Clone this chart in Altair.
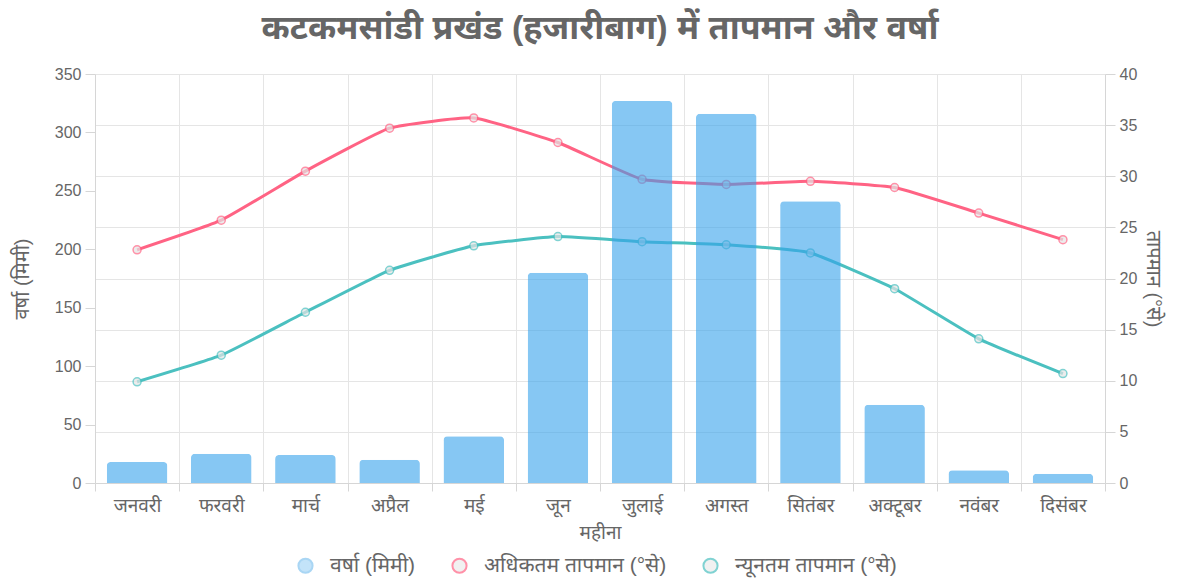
import altair as alt
import pandas as pd

months = ["जनवरी", "फरवरी", "मार्च", "अप्रैल", "मई", "जून",
          "जुलाई", "अगस्त", "सितंबर", "अक्टूबर", "नवंबर", "दिसंबर"]
rain = [18, 25, 24, 20, 40, 180, 327, 316, 241, 67, 11, 8]
tmax = [22.8, 25.7, 30.5, 34.7, 35.7, 33.3, 29.7, 29.2, 29.5, 28.9, 26.4, 23.8]
tmin = [9.9, 12.5, 16.7, 20.8, 23.2, 24.1, 23.6, 23.3, 22.5, 19.0, 14.1, 10.7]

s_rain = "वर्षा (मिमी)"
s_max = "अधिकतम तापमान (°से)"
s_min = "न्यूनतम तापमान (°से)"
series = [s_rain, s_max, s_min]
fill_colors = ["rgba(54,162,235,0.6)", "#e4e4e4", "#e4e4e4"]
stroke_colors = ["#86c5f0", "#ff6384", "#4bc0c0"]

df_rain = pd.DataFrame({"month": months, "value": rain, "series": s_rain})
df_temp = pd.concat([
    pd.DataFrame({"month": months, "value": tmax, "series": s_max}),
    pd.DataFrame({"month": months, "value": tmin, "series": s_min}),
])

FONT = "Liberation Sans, Arial, Noto Sans, sans-serif"
GREY = "#666666"
GRID = "#e5e5e5"
AX = "#d6d6d6"

x_axis = alt.Axis(title="महीना", labelAngle=0, tickBand="extent", grid=True,
                  gridColor=GRID, domainColor=AX, tickColor=AX,
                  tickSize=8, labelColor=GREY, labelFontSize=19, labelPadding=5,
                  titleColor=GREY, titleFontSize=19, titleFontWeight="normal",
                  titlePadding=8)
x_enc = alt.X("month:N", sort=months,
              scale=alt.Scale(paddingInner=0, paddingOuter=0), axis=x_axis)


def make_legend():
    return alt.Legend(
        title=None, orient="none", legendX=200, legendY=481, direction="horizontal",
        symbolType="circle", symbolSize=200, symbolStrokeWidth=2,
        labelFontSize=21, labelColor=GREY, labelFont=FONT, labelLimit=400,
        columnPadding=32, labelOffset=14,
    )


fill_enc = alt.Fill("series:N", scale=alt.Scale(domain=series, range=fill_colors),
                    legend=make_legend())
stroke_enc = alt.Stroke("series:N", scale=alt.Scale(domain=series, range=stroke_colors),
                        legend=make_legend())

y_right = alt.Y("value:Q", scale=alt.Scale(domain=[0, 40], nice=False),
                axis=alt.Axis(title="तापमान (°से)", orient="right",
                              values=list(range(0, 41, 5)), grid=True, gridColor=GRID,
                              tickSize=10, tickColor=AX, domainColor=AX,
                              labelColor=GREY, labelFontSize=16, labelPadding=4,
                              titleColor=GREY, titleFontSize=20,
                              titleFontWeight="normal", titlePadding=6))

lines = alt.Chart(df_temp).mark_line(strokeWidth=3, interpolate="cardinal",
                                     tension=0.6).encode(
    x=x_enc, y=y_right, stroke=stroke_enc)
points = alt.Chart(df_temp).mark_point(size=64, strokeWidth=1.5, filled=False).encode(
    x=x_enc, y=y_right, stroke=stroke_enc, fill=fill_enc)

y_left = alt.Y("value:Q", scale=alt.Scale(domain=[0, 350], nice=False),
               axis=alt.Axis(title="वर्षा (मिमी)", orient="left",
                             values=list(range(0, 351, 50)), grid=False,
                             tickSize=10, tickColor=AX, domainColor=AX,
                             labelColor=GREY, labelFontSize=16, labelPadding=4,
                             titleColor=GREY, titleFontSize=20,
                             titleFontWeight="normal", titlePadding=22))

bars = alt.Chart(df_rain).mark_bar(width=alt.RelativeBandSize(0.72),
                                   cornerRadiusTopLeft=4, cornerRadiusTopRight=4).encode(
    x=x_enc, y=y_left, fill=fill_enc)

chart = alt.layer(alt.layer(lines, points), bars).resolve_scale(
    y="independent"
).properties(
    width=1010, height=409,
    autosize=alt.AutoSizeParams(type="none"),
    padding={"left": 87, "top": 66, "right": 66, "bottom": 95},
    title=alt.TitleParams("कटकमसांडी प्रखंड (हजारीबाग) में तापमान और वर्षा",
                          fontSize=34, fontWeight="bold", color=GREY, font=FONT,
                          anchor="middle", frame="group", offset=20),
).configure(font=FONT).configure_view(stroke=None)

chart.save("out.html", embed_options={"renderer": "svg", "actions": False})
